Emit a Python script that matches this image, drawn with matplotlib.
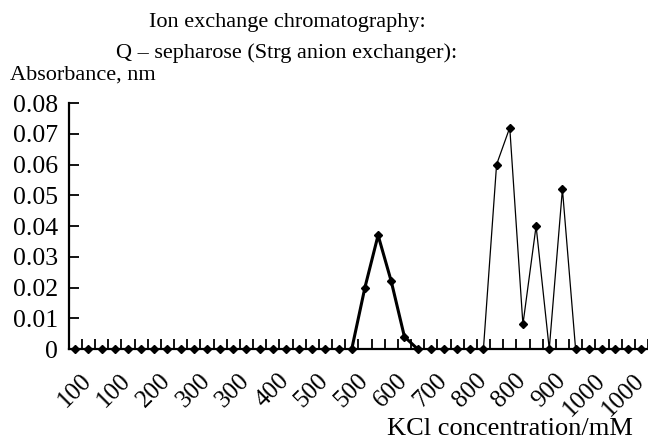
import matplotlib
matplotlib.use("Agg")
import matplotlib.pyplot as plt
from matplotlib.transforms import ScaledTranslation

# absorbance per fraction (44 fractions along the KCl gradient)
absorbance = [0, 0, 0, 0, 0, 0, 0, 0, 0, 0, 0, 0, 0, 0, 0, 0, 0, 0, 0, 0, 0, 0,
              0.020, 0.037, 0.022, 0.004, 0, 0, 0, 0, 0, 0,
              0.060, 0.072, 0.008, 0.040, 0, 0.052, 0, 0, 0, 0, 0, 0]
# only every third category carries a label
tick_labels = ["100", "100", "200", "300", "300", "400", "500", "500",
               "600", "700", "800", "800", "900", "1000", "1000"]
y_ticks = [0, 0.01, 0.02, 0.03, 0.04, 0.05, 0.06, 0.07, 0.08]

plt.rcParams['font.family'] = ['Liberation Serif', 'DejaVu Serif']

fig = plt.figure(figsize=(6.48, 4.41), dpi=100)
ax = fig.add_axes([0.106, 0.2086, 0.894, 0.5578])

x = list(range(len(absorbance)))
ax.plot(x, absorbance, color='black', lw=0.9, marker='D', markersize=4.5,
        clip_on=False, zorder=3)
# first peak is drawn with a heavier line
ax.plot(x[21:27], absorbance[21:27], color='black', lw=2.2, zorder=2)

ax.set_xlim(-0.5, len(absorbance) - 0.5)
ax.set_ylim(0, 0.08)
ax.set_yticks(y_ticks)
ax.set_yticklabels(["0" if v == 0 else "%.2f" % v for v in y_ticks])

# ticks sit between categories, labels on every third one
ax.set_xticks([i - 0.5 for i in range(len(absorbance) + 1)])
ax.set_xticklabels([])
ax.set_xticks(list(range(0, len(absorbance), 3)), minor=True)
ax.set_xticklabels(tick_labels, minor=True, rotation=45, ha='right',
                   rotation_mode='anchor', fontsize=18)
ax.tick_params(axis='x', which='major', direction='in', length=7, width=1.3)
ax.tick_params(axis='x', which='minor', length=0, pad=15)
ax.tick_params(axis='y', direction='in', length=7, width=1.3, labelsize=18.5, pad=7.5)
for lab in ax.get_xticklabels(minor=True):
    lab.set_transform(lab.get_transform() + ScaledTranslation(0.05, 0, fig.dpi_scale_trans))

for s in ['top', 'right']:
    ax.spines[s].set_visible(False)
for s in ['left', 'bottom']:
    ax.spines[s].set_linewidth(1.6)

fig.text(287 / 648, 1 - 23 / 441, "Ion exchange chromatography:", ha='center', va='center', fontsize=16)
fig.text(287 / 648, 1 - 53 / 441, "Q \u2013 sepharose (Strg anion exchanger):", ha='center', va='center', fontsize=16)
fig.text(10 / 648, 1 - 75 / 441, "Absorbance, nm", ha='left', va='center', fontsize=16)
fig.text(633 / 648, 1 - 429 / 441, "KCl concentration/mM", ha='right', va='center', fontsize=19)

fig.savefig("out.png", dpi=100)
